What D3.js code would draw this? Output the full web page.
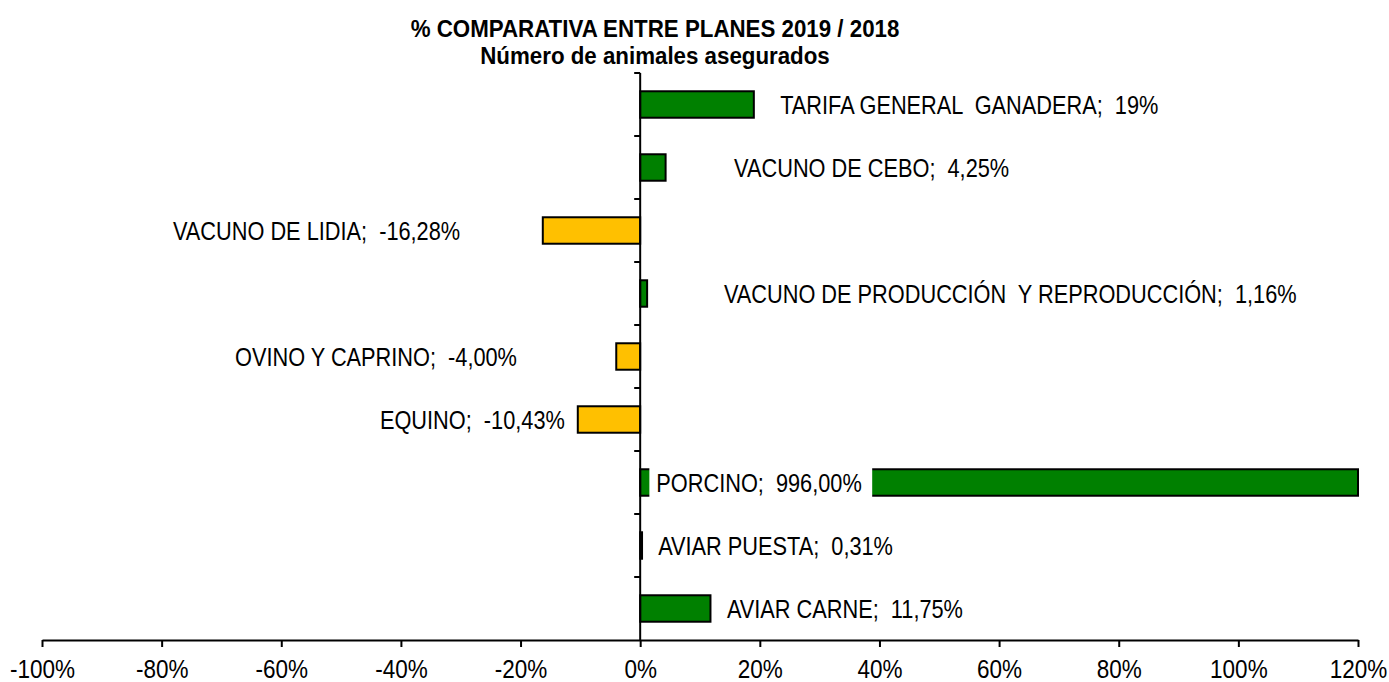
<!DOCTYPE html>
<html>
<head>
<meta charset="utf-8">
<script src="https://cdn.jsdelivr.net/npm/d3@7/dist/d3.min.js"></script>
<style>
  body { margin: 0; background: #fff; }
  svg text { font-family: "Liberation Sans", Arial, sans-serif; white-space: pre; }
</style>
</head>
<body>
<div id="chart"></div>
<script>
// datos ----------------------------------------------------------------------------------------
const categories = [
  'TARIFA GENERAL  GANADERA',
  'VACUNO DE CEBO',
  'VACUNO DE LIDIA',
  'VACUNO DE PRODUCCIÓN  Y REPRODUCCIÓN',
  'OVINO Y CAPRINO',
  'EQUINO',
  'PORCINO',
  'AVIAR PUESTA',
  'AVIAR CARNE'
];
const values = [19, 4.25, -16.28, 1.16, -4.00, -10.43, 996.00, 0.31, 11.75];
const valueLabels = ['19%', '4,25%', '-16,28%', '1,16%', '-4,00%', '-10,43%', '996,00%', '0,31%', '11,75%'];
const xTicks = [-100, -80, -60, -40, -20, 0, 20, 40, 60, 80, 100, 120];
const titleLines = ['% COMPARATIVA ENTRE PLANES 2019 / 2018', 'Número de animales asegurados'];

// posicion de las etiquetas (en %, como quedaron colocadas a mano en el original)
const labelAt = [23.4, 15.7, -30.1, 14.0, -20.6, -12.6, 2.7, 3.0, 14.5];

// SVG ------------------------------------------------------------------------------------------
const width = 1389;
const height = 682;
const margin = { top: 73, bottom: 42, left: 42, right: 31 };
// la fuente del original es estrecha: se comprime en horizontal
const squeeze = 0.87;

const svg = d3.select('#chart').append('svg')
  .attr('width', width)
  .attr('height', height);

// escalas --------------------------------------------------------------------------------------
const xScale = d3.scaleLinear()
  .domain([xTicks[0], xTicks[xTicks.length - 1]])
  .range([margin.left, width - margin.right]);
const yScale = d3.scaleBand()
  .domain(categories)
  .range([margin.top, height - margin.bottom])
  .padding(0);
const barH = yScale.bandwidth() * 0.42;
const xMax = xScale.domain()[1];

// barras ---------------------------------------------------------------------------------------
svg.append('g')
  .selectAll('rect')
  .data(categories)
  .enter()
  .append('rect')
  .attr('x', (d, i) => xScale(Math.min(0, values[i])))
  .attr('y', d => yScale(d) + (yScale.bandwidth() - barH) / 2)
  .attr('width', (d, i) => Math.abs(xScale(Math.min(values[i], xMax)) - xScale(0)))
  .attr('height', barH)
  .attr('fill', (d, i) => values[i] >= 0 ? '#008000' : '#FFC000')
  .attr('stroke', '#000')
  .attr('stroke-width', 2);

// eje x ----------------------------------------------------------------------------------------
const xAxis = svg.append('g')
  .attr('transform', 'translate(0,' + (height - margin.bottom) + ')')
  .call(
    d3.axisBottom(xScale)
    .tickValues(xTicks)
    .tickFormat(d => d + '%')
    .tickSize(7)
    .tickSizeOuter(0)
    .tickPadding(13)
  );
xAxis.selectAll('path, line').attr('stroke', '#000').attr('stroke-width', 2);
xAxis.selectAll('text')
  .attr('font-size', '25px')
  .attr('fill', '#000')
  .attr('transform', 'scale(' + 0.9 + ',1)')
  .attr('x', function() { return 0; })
  .style('font-family', '"Liberation Sans", Arial, sans-serif');

// eje y (linea en 0 con marcas entre categorias) ------------------------------------------------
svg.append('line')
  .attr('x1', xScale(0)).attr('x2', xScale(0))
  .attr('y1', margin.top).attr('y2', height - margin.bottom)
  .attr('stroke', '#000').attr('stroke-width', 2);
svg.append('g')
  .selectAll('line')
  .data(categories)
  .enter()
  .append('line')
  .attr('x1', xScale(0) - 6).attr('x2', xScale(0))
  .attr('y1', d => yScale(d)).attr('y2', d => yScale(d))
  .attr('stroke', '#000').attr('stroke-width', 2);

// etiquetas ------------------------------------------------------------------------------------
const labelG = svg.append('g');
categories.forEach((c, i) => {
  const g = labelG.append('g')
    .attr('transform', 'translate(' + xScale(labelAt[i]) + ',' + (yScale(c) + yScale.bandwidth() / 2) + ') scale(' + squeeze + ',1)');
  const txt = g.append('text')
    .attr('dy', '0.36em')
    .attr('text-anchor', values[i] < 0 ? 'end' : 'start')
    .attr('font-size', '25px')
    .attr('fill', '#000')
    .text(c + ';  ' + valueLabels[i]);
  // la barra que se sale del eje lleva la etiqueta con fondo blanco
  if (values[i] > xMax) {
    const bb = txt.node().getBBox();
    g.insert('rect', 'text')
      .attr('x', bb.x - 8)
      .attr('y', bb.y - 4)
      .attr('width', bb.width + 20)
      .attr('height', bb.height + 8)
      .attr('fill', '#fff');
  }
});

// titulo ---------------------------------------------------------------------------------------
svg.append('g')
  .selectAll('text')
  .data(titleLines)
  .enter()
  .append('text')
  .attr('transform', (d, i) => 'translate(655,' + (37 + i * 27) + ') scale(0.93,1)')
  .attr('text-anchor', 'middle')
  .attr('font-size', '24px')
  .attr('font-weight', 'bold')
  .attr('fill', '#000')
  .text(d => d);
</script>
</body>
</html>
